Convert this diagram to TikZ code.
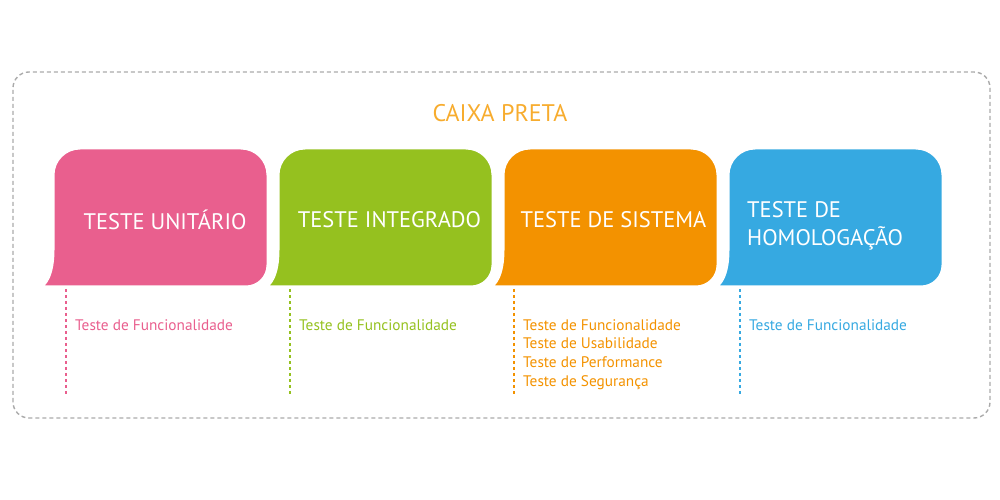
\documentclass[tikz,border=0pt]{standalone}
\usepackage{fontspec}
\setmainfont{PT Sans}
\definecolor{cpink}{HTML}{E95F8E}
\definecolor{cgreen}{HTML}{95C11F}
\definecolor{corange}{HTML}{F39200}
\definecolor{cblue}{HTML}{36A9E1}
\definecolor{ctitle}{HTML}{F7AC2E}
\definecolor{cframe}{HTML}{AAAAAA}
\tikzset{
  stagebox/.style={fill=#1, draw=white, line width=3pt},
  stagetitle/.style={text=white, font=\fontsize{22.5}{28}\selectfont, inner sep=0pt, align=left},
  stagelist/.style={text=#1, font=\fontsize{15.3}{18.7}\selectfont, inner sep=0pt, anchor=north west, align=left},
  stagedash/.style={draw=#1, line width=1.4pt, dash pattern=on 3pt off 3pt},
}
\newcommand{\stageshape}[2]{%
  \path[stagebox=#2] (#1-15,213) .. controls (#1-8,213) and (#1,225) .. (#1,250)
    -- (#1,325) arc[start angle=180, end angle=90, radius=27]
    -- (#1+188,352) arc[start angle=90, end angle=0, radius=27]
    -- (#1+215,235) arc[start angle=0, end angle=-90, radius=22]
    -- cycle;}
\begin{document}
\begin{tikzpicture}[x=1pt,y=1pt]
\useasboundingbox (0,0) rectangle (1000,500);
\draw[draw=cframe, line width=1.4pt, dash pattern=on 4pt off 3pt, rounded corners=16] (13,82) rectangle (990,428);
\node[text=ctitle, font=\fontsize{24}{28}\selectfont, inner sep=0pt] (caixa) at (500,387) {CAIXA PRETA};

\stageshape{53}{cpink}
\stageshape{278}{cgreen}
\stageshape{503}{corange}
\stageshape{728}{cblue}

\node[stagetitle] (t1) at (165,280) {TESTE UNITÁRIO};
\node[stagetitle] (t2) at (389.5,280) {TESTE INTEGRADO};
\node[stagetitle] (t3) at (613.5,280) {TESTE DE SISTEMA};
\node[stagetitle, anchor=west] (t4) at (747,274) {TESTE DE\\HOMOLOGAÇÃO};

\coordinate (d1a) at (66,211); \coordinate (d1b) at (66,105);
\coordinate (d2a) at (290,211); \coordinate (d2b) at (290,105);
\coordinate (d3a) at (514,211); \coordinate (d3b) at (514,105);
\coordinate (d4a) at (740,211); \coordinate (d4b) at (740,105);
\draw[stagedash=cpink] (d1a) -- (d1b);
\draw[stagedash=cgreen] (d2a) -- (d2b);
\draw[stagedash=corange] (d3a) -- (d3b);
\draw[stagedash=cblue] (d4a) -- (d4b);

\node[stagelist=cpink] (l1) at (75,181) {Teste de Funcionalidade};
\node[stagelist=cgreen] (l2) at (299,181) {Teste de Funcionalidade};
\node[stagelist=corange] (l3) at (523,181) {Teste de Funcionalidade\\Teste de Usabilidade\\Teste de Performance\\Teste de Segurança};
\node[stagelist=cblue] (l4) at (749,181) {Teste de Funcionalidade};
\end{tikzpicture}
\end{document}
